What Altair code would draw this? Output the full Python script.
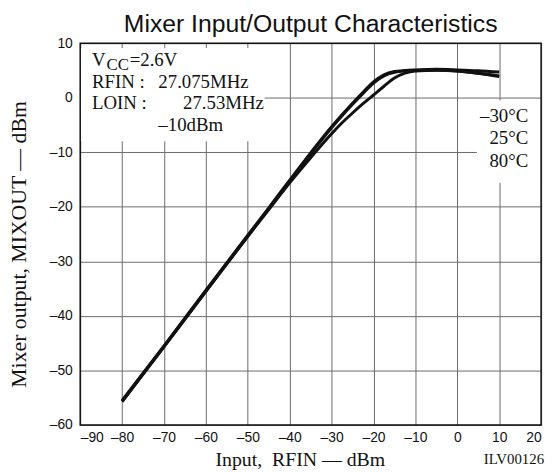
import altair as alt
import pandas as pd

# ---- data ----
x_in = [-80, -70, -60, -50, -45, -40, -35, -30, -27.5, -25, -22.5, -20,
        -17.5, -15, -12.5, -10, -5, 0, 5, 10]
out_m30 = [-55.5, -45.5, -35.3, -25.2, -20.2, -15.1, -10.1, -5.3, -3.1, -1.0, 1.0, 2.9,
           4.2, 4.8, 5.0, 5.1, 5.2, 5.1, 4.95, 4.7]
out_25 = [-55.7, -45.7, -35.5, -25.4, -20.4, -15.3, -10.3, -5.5, -3.3, -1.2, 0.8, 2.7,
          4.0, 4.65, 4.9, 5.0, 5.1, 4.9, 4.5, 3.9]
out_80 = [-55.7, -45.6, -35.5, -25.4, -20.5, -15.6, -11.0, -6.6, -4.6, -2.8, -1.1, 0.5,
          2.1, 3.6, 4.5, 4.9, 5.05, 4.9, 4.5, 4.0]
series_names = ["-30°C", "25°C", "80°C"]

x_ticks = [-90, -80, -70, -60, -50, -40, -30, -20, -10, 0, 10, 20]
y_ticks = [10, 0, -10, -20, -30, -40, -50, -60]

title_text = ["Mixer Input/Output Characteristics"]
title_x = [-35]
title_y = [12.0]
x_title = "Input,\u00a0 RFIN — dBm"
y_title = "Mixer output, MIXOUT — dBm"

# annotation texts (anchored in data coordinates)
cond_text = ["V", "=2.6V", "RFIN :", "27.075MHz", "LOIN :", "27.53MHz", "–10dBm"]
cond_x = [-87.17, -78.2, -87.17, -71.35, -87.17, -65.45, -71.35]
cond_y = [5.83, 5.83, 1.84, 1.84, -2.15, -2.15, -6.14]
sub_text = ["CC"]
sub_x = [-83.74]
sub_y = [5.1]
temp_text = ["–30°C", "25°C", "80°C"]
temp_x = [16.94, 16.94, 16.94]
temp_y = [-4.51, -8.5, -12.67]
box_x = [-90, 4.7]
box_x2 = [-46, 20]
box_y = [-8.0, -15.6]
box_y2 = [9.1, -0.5]
code_text = ["ILV00126"]
code_x = [20.72]
code_y = [-67.1]

# ---- tables ----
rows = []
for name, vals in zip(series_names, [out_m30, out_25, out_80]):
    for xv, yv in zip(x_in, vals):
        rows.append({"x": xv, "y": yv, "series": name})
df_lines = pd.DataFrame(rows)
df_cond = pd.DataFrame({"x": cond_x, "y": cond_y, "t": cond_text})
df_sub = pd.DataFrame({"x": sub_x, "y": sub_y, "t": sub_text})
df_temp = pd.DataFrame({"x": temp_x, "y": temp_y, "t": temp_text})
df_box = pd.DataFrame({"x": box_x, "x2": box_x2, "y": box_y, "y2": box_y2})
df_frame = pd.DataFrame({"x": [-90], "x2": [20], "y": [-60], "y2": [10]})
df_code = pd.DataFrame({"x": code_x, "y": code_y, "t": code_text})
df_title = pd.DataFrame({"x": title_x, "y": title_y, "t": title_text})

x_scale = alt.Scale(domain=[-90, 20], nice=False, zero=False)
y_scale = alt.Scale(domain=[-60, 10], nice=False, zero=False)

label_expr = "replace(replace(datum.label, '−', '–'), '-', '–')"

x_axis = alt.Axis(values=x_ticks, title=x_title, grid=True, gridColor="#6a6a6a", gridWidth=1,
                  ticks=False, domain=False, labelFont="Liberation Sans", labelFontSize=14,
                  labelColor="#111", labelPadding=6, labelExpr=label_expr,
                  titleFont="Liberation Serif", titleFontSize=20, titleFontWeight="normal",
                  titleColor="#111", titleY=41, titleX=222, titleBaseline="alphabetic")
y_axis = alt.Axis(values=y_ticks, title=y_title, grid=True, gridColor="#6a6a6a", gridWidth=1,
                  ticks=False, domain=False, labelFont="Liberation Sans", labelFontSize=14,
                  labelColor="#111", labelPadding=8, labelExpr=label_expr,
                  titleFont="Liberation Serif", titleFontSize=22, titleFontWeight="normal",
                  titleColor="#111", titleX=-55, titleY=203, titleAngle=270,
                  titleBaseline="alphabetic", titleAlign="center")


def X(field="x"):
    return alt.X(f"{field}:Q", scale=x_scale, axis=x_axis)


def Y(field="y"):
    return alt.Y(f"{field}:Q", scale=y_scale, axis=y_axis)


lines = alt.Chart(df_lines).mark_line(color="#111", strokeWidth=3, interpolate="monotone").encode(
    x=X(), y=Y(), detail="series:N"
)
boxes = alt.Chart(df_box).mark_rect(color="white").encode(
    x=X(), x2="x2:Q", y=Y(), y2="y2:Q"
)
cond = alt.Chart(df_cond).mark_text(align="left", baseline="alphabetic", font="Liberation Serif",
                                     fontSize=19, color="#111").encode(x=X(), y=Y(), text="t:N")
sub = alt.Chart(df_sub).mark_text(align="left", baseline="alphabetic", font="Liberation Serif",
                                   fontSize=17, color="#111").encode(x=X(), y=Y(), text="t:N")
temps = alt.Chart(df_temp).mark_text(align="right", baseline="alphabetic", font="Liberation Serif",
                                      fontSize=19, color="#111").encode(x=X(), y=Y(), text="t:N")
frame = alt.Chart(df_frame).mark_rect(filled=False, stroke="#111", strokeWidth=1.5).encode(
    x=X(), x2="x2:Q", y=Y(), y2="y2:Q"
)
code = alt.Chart(df_code).mark_text(align="right", baseline="alphabetic", font="Liberation Serif",
                                     fontSize=15, color="#111").encode(x=X(), y=Y(), text="t:N")
title = alt.Chart(df_title).mark_text(align="center", baseline="alphabetic", font="Liberation Sans",
                                       fontSize=25, color="#111").encode(x=X(), y=Y(), text="t:N")

chart = alt.layer(lines, boxes, cond, sub, temps, frame, code, title).properties(
    width=466,
    height=386,
    autosize=alt.AutoSizeParams(type="none"),
    padding={"left": 73, "top": 33, "right": 9, "bottom": 45},
).configure_view(stroke=None).configure(background="white")

chart.save("out.html", embed_options={"renderer": "svg", "actions": False})
